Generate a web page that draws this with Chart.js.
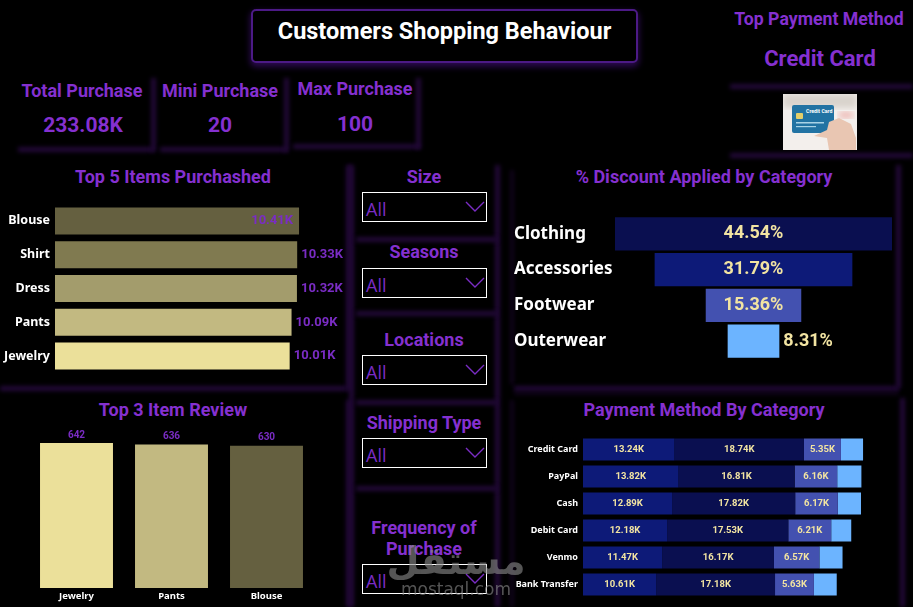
<!DOCTYPE html>
<html><head><meta charset="utf-8">
<script src="https://cdn.jsdelivr.net/npm/chart.js@4/dist/chart.umd.min.js"></script>
<style>
html,body{margin:0;padding:0;background:#000;width:913px;height:607px;overflow:hidden}
#page{position:relative;width:913px;height:607px;background:#000;overflow:hidden;font-family:Roboto,sans-serif}
.t{position:absolute;transform:translate(-50%,-50%);white-space:nowrap;font-weight:700;color:#8530d0;line-height:1;text-align:center}
.g{position:absolute;background:#220838;filter:blur(2px)}
.c{position:absolute}
.c canvas{display:block}
.s{position:absolute;left:362px;width:123px;border:1px solid #fff;box-sizing:content-box;background:#000}
.s span{position:absolute;left:3px;bottom:0;font:18px "Open Sans",sans-serif;color:#7a2cc4;line-height:24px}
.s svg{position:absolute;right:1px;top:7px}
#wm{position:absolute;left:456px;top:541px;transform:translateX(-50%);white-space:nowrap;text-align:center;color:#8a8a8a;opacity:.62;pointer-events:none;z-index:10}
</style></head>
<body><div id="page">
<div id="glow"></div>
<div style="position:absolute;left:251px;top:9px;width:387px;height:54px;border:2px solid #4c1a86;border-radius:5px;box-sizing:border-box;box-shadow:0 3px 6px 1px #2a0a4e;background:#000"></div>
<div class="t" style="left:444.5px;top:32px;font-size:23.5px;color:#fff">Customers Shopping Behaviour</div>

<div class="t" style="left:82px;top:91px;font-size:18px">Total Purchase</div>
<div class="t" style="left:83px;top:125px;font-size:21px">233.08K</div>
<div class="t" style="left:220px;top:91px;font-size:18px">Mini Purchase</div>
<div class="t" style="left:220px;top:125px;font-size:21px">20</div>
<div class="t" style="left:355px;top:89px;font-size:18px">Max Purchase</div>
<div class="t" style="left:355px;top:124px;font-size:21px">100</div>
<div class="t" style="left:819px;top:20px;font-size:17.7px">Top Payment Method</div>
<div class="t" style="left:820px;top:59px;font-size:22px">Credit Card</div>

<svg style="position:absolute;left:783px;top:94px" width="74" height="56" viewBox="0 0 74 56">
<defs><filter id="b" x="-5%" y="-5%" width="110%" height="110%"><feGaussianBlur stdDeviation=".6"/></filter><filter id="b2"><feGaussianBlur stdDeviation="3"/></filter></defs>
<rect width="74" height="56" fill="#f3efec"/>
<rect x="0" y="0" width="74" height="14" fill="#d9d3cc" filter="url(#b2)"/>
<rect x="56" y="18" width="14" height="6" fill="#eeb5b0" filter="url(#b2)"/>
<g filter="url(#b)">
<rect x="9" y="11" width="42" height="28" rx="2" fill="#2473a3"/>
<rect x="13" y="19" width="7" height="6" rx="1" fill="#e4cf6a"/>
<rect x="13" y="28" width="28" height="1.5" fill="#a9d3e6"/><rect x="13" y="32" width="20" height="1.2" fill="#a9d3e6"/>
<path d="M31 42 L44 36 L46 28 L56 24 L68 30 L73 44 L73 56 L46 56 L44 44 Z" fill="#e9c6b2"/>
</g>
<text x="23" y="19" font-size="5.2" font-weight="700" fill="#fff" font-family="Roboto">Credit Card</text>
</svg>

<div class="t" style="left:173px;top:177px;font-size:18px">Top 5 Items Purchashed</div>
<div class="t" style="left:173px;top:410px;font-size:18px">Top 3 Item Review</div>
<div class="t" style="left:704px;top:177px;font-size:18px">% Discount Applied by Category</div>
<div class="t" style="left:704px;top:410px;font-size:18px">Payment Method By Category</div>

<div class="t" style="left:424px;top:177px;font-size:18px">Size</div>
<div class="t" style="left:424px;top:252px;font-size:18px">Seasons</div>
<div class="t" style="left:424px;top:340px;font-size:18px">Locations</div>
<div class="t" style="left:424px;top:423px;font-size:18px">Shipping Type</div>
<div class="t" style="left:424px;top:528px;font-size:18px">Frequency of</div>
<div class="t" style="left:424px;top:549px;font-size:18px">Purchase</div>
<div id="slicers"></div>

<div class="c" style="left:0;top:204px;width:345px;height:169px"><canvas id="c1"></canvas></div>
<div class="c" style="left:29px;top:425px;width:285px;height:182px"><canvas id="c2"></canvas></div>
<div class="c" style="left:514px;top:215.5px;width:391px;height:143px"><canvas id="c3"></canvas></div>
<div class="c" style="left:510px;top:435.5px;width:395px;height:162px"><canvas id="c4"></canvas></div>

<div id="wm"><div style="font:700 38px/40px 'DejaVu Sans',sans-serif" dir="rtl">مستقل</div><div style="font:400 17px/16px 'DejaVu Sans',sans-serif">mostaql.com</div></div>
</div>
<script>
// ---- data ----
const topItems = ['Blouse','Shirt','Dress','Pants','Jewelry'];
const topItemValues = [10.41,10.33,10.32,10.09,10.01];
const topItemColors = ['#656040','#807a50','#a39c6c','#c2b981','#ebe09a'];

const reviewItems = ['Jewelry','Pants','Blouse'];
const reviewValues = [642,636,630];
const reviewColors = ['#ebe09a','#c2b981','#656040'];

const discountCategories = ['Clothing','Accessories','Footwear','Outerwear'];
const discountValues = [44.54,31.79,15.36,8.31];
const discountColors = ['#0a0f50','#0d1a78','#4351b0','#6cb4ff'];

const paymentMethods = ['Credit Card','PayPal','Cash','Debit Card','Venmo','Bank Transfer'];
const accessoriesValues = [13.24,13.82,12.89,12.18,11.47,10.61];
const clothingValues = [18.74,16.81,17.82,17.53,16.17,17.18];
const footwearValues = [5.35,6.16,6.17,6.21,6.57,5.63];
const outerwearValues = [3.2,3.5,3.35,2.9,3.35,3.3];

// ---- decorative panel glow strips ----
const glowHost=document.getElementById('glow');
const strip=(x,y,w,h,a)=>{const d=document.createElement('div');d.className='g';
  d.style.cssText=`left:${x}px;top:${y}px;width:${w}px;height:${h}px;opacity:${a||1}`;glowHost.appendChild(d);};
[[18,147,135,5],[151,78,5,74],[160,147,127,5],[284,78,5,74],[293,144,127,5],[416,78,5,71],
 [730,84,183,5],[730,153,183,5],
 [0,386,347,5],[346,165,5,226],[346,400,5,207],
 [349,165,5,442],[495,165,5,442],[356,237,141,5],[356,311,141,5],[356,400,141,5],[356,486,141,5],
 [510,170,4,215,.5],[514,386,385,5],[896,165,5,223],[510,400,4,207,.5],[900,398,5,209],[514,392,385,3,.5]
].forEach(r=>strip(...r));

// ---- slicers ----
const sl = document.getElementById('slicers');
[[192,28],[268,28],[355,28],[438,28],[564,28]].forEach(([y,h])=>{
  const d=document.createElement('div');d.className='s';
  d.style.top=y+'px';d.style.height=h+'px';
  d.innerHTML='<span>All</span><svg width="20" height="14"><polyline points="1,2 10,11 19,2" fill="none" stroke="#7a2cc4" stroke-width="1.4"/></svg>';
  sl.appendChild(d);
});

// ---- helpers ----
const labelPlugin = (font,color,place,fmt)=>({
  id:'valueLabels',
  afterDatasetsDraw(chart){
    const ctx=chart.ctx;ctx.save();ctx.font=font;ctx.fillStyle=color;
    chart.data.datasets.forEach((ds,di)=>{
      if(ds.noLabels) return;
      chart.getDatasetMeta(di).data.forEach((el,i)=>{
        const v=ds.labelValues?ds.labelValues[i]:ds.data[i];
        const where=place(i);const c=el.getCenterPoint();
        let x=c.x,y=c.y;
        ctx.textBaseline='middle';ctx.textAlign='center';
        if(where==='end'){x=el.x+4;ctx.textAlign='left';}
        if(where==='in'){x=el.x-6;ctx.textAlign='right';}
        if(where==='top'){x=el.x;y=el.y-8;}
        ctx.fillText(fmt(v),x,y);
      });
    });
    ctx.restore();
  }
});
const noGrid={display:false,drawTicks:false};
const fitW=w=>s=>{s.width=w;s.paddingTop=0;s.paddingBottom=0;};
const base={responsive:true,maintainAspectRatio:false,animation:false,
  plugins:{legend:{display:false},tooltip:{enabled:false},title:{display:false}},
  layout:{padding:0,autoPadding:false}};
Chart.defaults.font.family='Roboto, sans-serif';

new Chart(document.getElementById('c1'),{type:'bar',
  data:{labels:topItems,datasets:[{data:topItemValues,backgroundColor:topItemColors,categoryPercentage:.8,barPercentage:1}]},
  options:{...base,indexAxis:'y',scales:{
    x:{display:false,min:0,max:12.37},
    y:{grid:noGrid,border:{display:false},afterFit:fitW(55),
       ticks:{color:'#fff',padding:5,font:{size:12.5,weight:'700',family:'Noto Sans'}}}}},
  plugins:[labelPlugin('700 13px Roboto','#7a2cc4',i=>i===0?'in':'end',v=>v.toFixed(2)+'K')]});

new Chart(document.getElementById('c2'),{type:'bar',
  data:{labels:reviewItems,datasets:[{data:reviewValues,backgroundColor:reviewColors,categoryPercentage:.768,barPercentage:1}]},
  options:{...base,scales:{
    y:{display:false,min:0,max:722},
    x:{grid:noGrid,border:{display:false},afterFit:s=>{s.height=19;s.paddingLeft=0;s.paddingRight=0;},
       ticks:{color:'#fff',padding:3,font:{size:9.5,weight:'700',family:'Noto Sans'}}}}},
  plugins:[labelPlugin('700 10px Roboto','#7a2cc4',()=>'top',v=>String(v))]});

new Chart(document.getElementById('c3'),{type:'bar',
  data:{labels:discountCategories,datasets:[{data:discountValues.map(v=>[-v/2,v/2]),labelValues:discountValues,backgroundColor:discountColors,categoryPercentage:.925,barPercentage:1}]},
  options:{...base,indexAxis:'y',scales:{
    x:{display:false,min:-22.27,max:24.36},
    y:{grid:noGrid,border:{display:false},afterFit:fitW(101),
       ticks:{color:'#fff',crossAlign:'far',padding:0,font:{size:17,weight:'700',family:'Noto Sans'}}}}},
  plugins:[labelPlugin('700 18px Roboto','#f2e4a2',i=>i===3?'end':'center',v=>v.toFixed(2)+'%')]});

const stack=(name,data,color,noLabels)=>({label:name,data,backgroundColor:color,noLabels,stack:'a',categoryPercentage:.815,barPercentage:1});
new Chart(document.getElementById('c4'),{type:'bar',
  data:{labels:paymentMethods,datasets:[
    stack('Accessories',accessoriesValues,'#0d1a78'),
    stack('Clothing',clothingValues,'#0a0f50'),
    stack('Footwear',footwearValues,'#4351b0'),
    stack('Outerwear',outerwearValues,'#6cb4ff',true)]},
  options:{...base,indexAxis:'y',scales:{
    x:{display:false,stacked:true,min:0,max:46.6},
    y:{stacked:true,grid:noGrid,border:{display:false},afterFit:fitW(73),
       ticks:{color:'#fff',padding:5,font:{size:9,weight:'700',family:'Noto Sans'}}}}},
  plugins:[labelPlugin('700 9.5px Roboto','#f2e4a2',()=>'center',v=>v.toFixed(2)+'K')]});
</script>
</body></html>
